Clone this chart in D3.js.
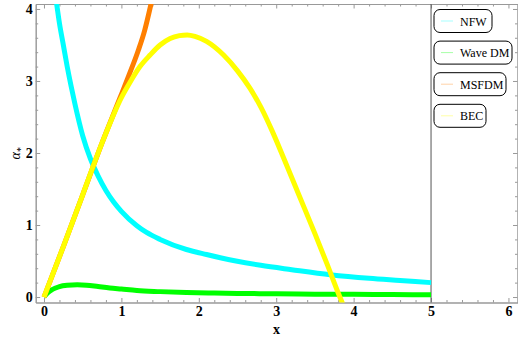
<!DOCTYPE html>
<html>
<head>
<meta charset="utf-8">
<script src="https://cdn.jsdelivr.net/npm/d3@7"></script>
<style>
  body { margin: 0; background: #fff; }
  .ejes path { stroke: #999; }
  .ejes line { stroke: #999; }
  .ejes text { font-family: "Liberation Serif", "Times New Roman", "DejaVu Serif", serif; font-weight: bold; font-size: 14px; fill: #000; }
  .serif { font-family: "Liberation Serif", "Times New Roman", "DejaVu Serif", serif; }
</style>
</head>
<body>
<div id="graf"></div>
<script>
// Data
const nfwX = [0.16, 0.2, 0.25, 0.3, 0.35, 0.4, 0.5, 0.6, 0.7, 0.8, 0.9, 1.0, 1.2, 1.32, 1.5, 1.84, 2.1, 2.48, 2.8, 3.2, 3.7, 4.2, 4.6, 5.0]
const nfwY = [4.1, 3.8, 3.5, 3.2, 2.93, 2.68, 2.24, 1.92, 1.68, 1.48, 1.32, 1.19, 0.99, 0.9, 0.8, 0.66, 0.59, 0.5, 0.44, 0.38, 0.31, 0.26, 0.23, 0.2]

const waveX = [0, 0.05, 0.1, 0.15, 0.2, 0.3, 0.43, 0.55, 0.7, 0.85, 1.0, 1.2, 1.5, 1.84, 2.2, 2.5, 3.0, 3.5, 4.0, 4.5, 5.0]
const waveY = [0, 0.06, 0.1, 0.125, 0.145, 0.163, 0.17, 0.165, 0.145, 0.125, 0.11, 0.09, 0.075, 0.062, 0.055, 0.05, 0.045, 0.04, 0.037, 0.034, 0.032]

const msfdmX = [0, 0.25, 0.5, 0.75, 0.98, 1.09, 1.22, 1.3, 1.385, 1.45]
const msfdmY = [0, 0.7, 1.42, 2.14, 2.76, 3.06, 3.43, 3.7, 4.08, 4.4]

const becX = [0, 0.25, 0.5, 0.75, 1.0, 1.11, 1.24, 1.37, 1.5, 1.63, 1.75, 1.85, 1.95, 2.1, 2.32, 2.5, 2.66, 2.8, 2.95, 3.1, 3.3, 3.5, 3.66, 3.8, 3.9]
const becY = [0, 0.7, 1.42, 2.14, 2.77, 2.98, 3.2, 3.36, 3.5, 3.59, 3.63, 3.64, 3.62, 3.55, 3.36, 3.14, 2.9, 2.64, 2.3, 1.92, 1.4, 0.88, 0.45, 0.06, -0.2]

const series = [
  { nombre: "NFW", xs: nfwX, ys: nfwY, color: "#00ffff" },
  { nombre: "Wave DM", xs: waveX, ys: waveY, color: "#00ff00" },
  { nombre: "MSFDM", xs: msfdmX, ys: msfdmY, color: "#ff7f00" },
  { nombre: "BEC", xs: becX, ys: becY, color: "#ffff00" }
]

const xTicks = [0, 1, 2, 3, 4, 5, 6]
const yTicks = [0, 1, 2, 3, 4]

const anchoTotal = 518
const altoTotal = 343
const frame = { left: 35.7, right: 517.5, top: 4, bottom: 302.5 }

const svg = d3.select("#graf")
  .append("svg")
  .attr("width", anchoTotal)
  .attr("height", altoTotal)

// Escaladores
const x = d3.scaleLinear().domain([-0.107, 6.117]).range([frame.left, frame.right])
const y = d3.scaleLinear().domain([-0.076, 4.069]).range([frame.bottom, frame.top])

svg.append("clipPath").attr("id", "clip")
  .append("rect")
  .attr("x", frame.left).attr("y", frame.top)
  .attr("width", frame.right - frame.left)
  .attr("height", frame.bottom - frame.top)

// Ejes (ticks hacia dentro)
const minorX = d3.range(0, 6.01, 0.2).filter((d) => Math.abs(d - Math.round(d)) > 0.01)
const minorY = d3.range(0, 4.01, 0.2).filter((d) => Math.abs(d - Math.round(d)) > 0.01)

const axes = [
  { ax: d3.axisBottom(x), tr: `translate(0,${frame.bottom})`, maj: xTicks, min: minorX, lab: true, pad: 4 },
  { ax: d3.axisTop(x), tr: `translate(0,${frame.top})`, maj: xTicks, min: minorX, lab: false, pad: 4 },
  { ax: d3.axisLeft(y), tr: `translate(${frame.left},0)`, maj: yTicks, min: minorY, lab: true, pad: 3 },
  { ax: d3.axisRight(y), tr: `translate(${frame.right},0)`, maj: yTicks, min: minorY, lab: false, pad: 3 }
]

axes.forEach((a) => {
  svg.append("g")
    .attr("class", "ejes")
    .attr("transform", a.tr)
    .call(a.ax.tickValues(a.min).tickSize(-2.5).tickSizeOuter(0).tickFormat(""))
  svg.append("g")
    .attr("class", "ejes")
    .attr("transform", a.tr)
    .call(a.ax.tickValues(a.maj).tickSize(-4.5).tickSizeOuter(0).tickPadding(a.pad)
      .tickFormat(a.lab ? d3.format("d") : ""))
})

// línea en x = 5
svg.append("line")
  .attr("x1", x(5)).attr("x2", x(5))
  .attr("y1", frame.top).attr("y2", frame.bottom)
  .attr("stroke", "#555")
  .attr("stroke-width", 1)

// Curvas
const linea = d3.line()
  .x((d) => x(d[0]))
  .y((d) => y(d[1]))
  .curve(d3.curveMonotoneX)

const gCurvas = svg.append("g").attr("clip-path", "url(#clip)")
series.forEach((s) => {
  gCurvas.append("path")
    .datum(d3.zip(s.xs, s.ys))
    .attr("d", linea)
    .attr("fill", "none")
    .attr("stroke", s.color)
    .attr("stroke-width", 5)
    .attr("stroke-linejoin", "round")
})

// Etiquetas de ejes
svg.append("text")
  .attr("class", "serif")
  .attr("x", (frame.left + frame.right) / 2)
  .attr("y", 334)
  .attr("text-anchor", "middle")
  .attr("font-weight", "bold")
  .attr("font-size", 14)
  .text("x")

const yl = svg.append("text")
  .attr("class", "serif")
  .attr("transform", `translate(20,${(frame.top + frame.bottom) / 2}) rotate(-90)`)
  .attr("text-anchor", "middle")
  .attr("font-size", 14)
yl.append("tspan").attr("font-style", "italic").text("α")
yl.append("tspan").attr("font-size", 10).attr("dy", 4).text("*")

// Leyenda
const legendW = [58, 78, 72, 52]
const leg = svg.append("g")
series.forEach((s, i) => {
  const top = 9.5 + i * 31.6
  leg.append("rect")
    .attr("x", 434).attr("y", top)
    .attr("width", legendW[i]).attr("height", 23)
    .attr("rx", 6)
    .attr("fill", "#fff")
    .attr("stroke", "#000")
    .attr("stroke-width", 1)
  leg.append("line")
    .attr("x1", 441).attr("x2", 453)
    .attr("y1", top + 11.5).attr("y2", top + 11.5)
    .attr("stroke", s.color)
    .attr("stroke-opacity", 0.35)
    .attr("stroke-width", 1)
  leg.append("text")
    .attr("class", "serif")
    .attr("x", 460).attr("y", top + 16)
    .attr("font-size", 12)
    .text(s.nombre)
})
</script>
</body>
</html>
